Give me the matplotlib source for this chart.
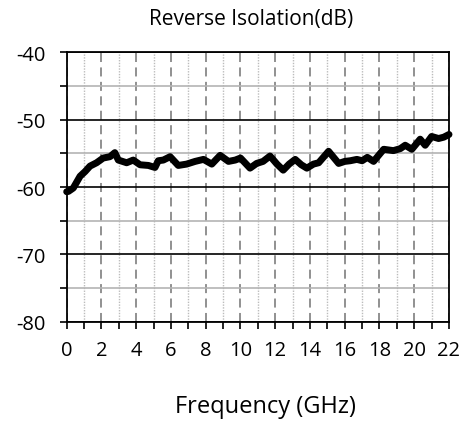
import matplotlib
matplotlib.use("Agg")
import matplotlib.pyplot as plt
from matplotlib.ticker import MultipleLocator

plt.rcParams["axes.unicode_minus"] = False

freq_ghz = [0.0, 0.1, 0.38, 0.77, 1.06, 1.34, 1.72, 2.1, 2.49, 2.77, 2.97, 3.45, 3.83,
            4.22, 4.7, 5.08, 5.27, 5.56, 5.95, 6.42, 6.9, 7.39, 7.87, 8.35, 8.83,
            9.31, 9.7, 10.0, 10.55, 10.93, 11.3, 11.7, 12.1, 12.46, 12.8, 13.15, 13.5,
            13.82, 14.2, 14.5, 15.07, 15.65, 16.0, 16.32, 16.7, 17.0, 17.3, 17.66,
            18.24, 18.8, 19.2, 19.48, 19.86, 20.34, 20.63, 21.0, 21.4, 21.7, 22.0]
isolation_db = [-60.7, -60.65, -60.15, -58.4, -57.7, -56.9, -56.4, -55.7, -55.5, -54.9,
                -56.0, -56.4, -56.0, -56.7, -56.8, -57.1, -56.1, -56.0, -55.5, -56.8,
                -56.6, -56.2, -55.9, -56.6, -55.3, -56.2, -56.0, -55.7, -57.2, -56.5,
                -56.2, -55.4, -56.6, -57.5, -56.6, -55.9, -56.7, -57.2, -56.6, -56.4,
                -54.7, -56.5, -56.2, -56.1, -55.9, -56.1, -55.6, -56.2, -54.4, -54.6,
                -54.3, -53.8, -54.4, -52.9, -53.8, -52.5, -52.8, -52.6, -52.2]

x_ticks = list(range(0, 23, 2))
y_ticks = [-80, -70, -60, -50, -40]

W, H = 464, 427
fig = plt.figure(figsize=(W / 100, H / 100), dpi=100)
L, R, T, B = 66.7, 449, 53.3, 322.7
ax = fig.add_axes([L / W, 1 - B / H, (R - L) / W, (B - T) / H])

ax.set_xlim(0, 22)
ax.set_ylim(-80, -40)
ax.set_xticks(x_ticks)
ax.set_yticks(y_ticks)
ax.xaxis.set_minor_locator(MultipleLocator(1))
ax.yaxis.set_minor_locator(MultipleLocator(5))

# grids
ax.grid(which="major", axis="y", color="black", linewidth=1.2, linestyle="-")
ax.grid(which="minor", axis="y", color="#b4b4b4", linewidth=1.2, linestyle="-")
ax.grid(which="major", axis="x", color="#888888", linewidth=1.3, linestyle=(0, (5, 3)))
ax.grid(which="minor", axis="x", color="#bcbcbc", linewidth=1.0, linestyle=(0, (1, 1)))
ax.set_axisbelow(True)

ax.plot(freq_ghz, isolation_db, color="black", linewidth=5.0, solid_joinstyle="round",
        solid_capstyle="round", clip_on=False, zorder=3)

for s in ax.spines.values():
    s.set_color("black")
    s.set_linewidth(1.3)

ax.tick_params(which="both", direction="out", length=5, width=1.2, color="black")
ax.tick_params(axis="y", which="major", pad=10)
ax.tick_params(axis="x", which="major", pad=8)
for lab in ax.get_xticklabels() + ax.get_yticklabels():
    lab.set_fontfamily("Open Sans")
    lab.set_fontsize(14.5)

fig.text(251 / W, 1 - 19 / H, "Reverse Isolation(dB)", ha="center", va="center",
         fontsize=15, family="Open Sans")
fig.text(265 / W, 1 - 407 / H, "Frequency (GHz)", ha="center", va="center",
         fontsize=17, family="Open Sans")

fig.savefig("out.png", dpi=100)
